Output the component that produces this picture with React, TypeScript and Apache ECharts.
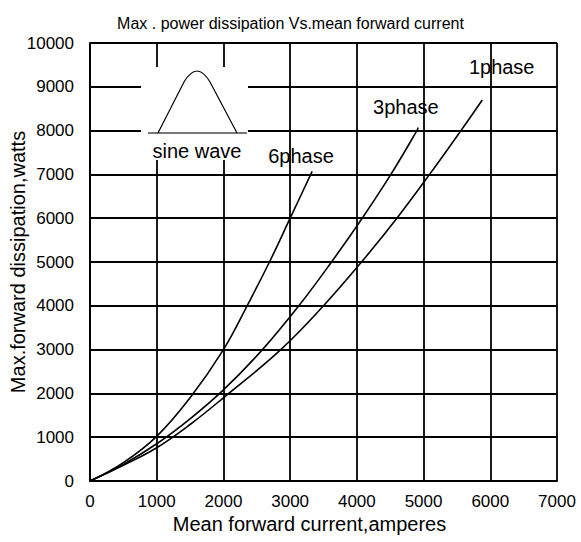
import React, { useEffect, useRef } from "react";
import * as echarts from "echarts";

const titleText = "Max . power dissipation Vs.mean forward current";
const xName = "Mean forward current,amperes";
const yName = "Max.forward dissipation,watts";

const phase1X = [0, 500, 1000, 1500, 2000, 2860, 3500, 4070, 4600, 5090, 5560, 5880];
const phase1Y = [0, 360, 760, 1290, 1900, 3000, 4000, 5000, 6000, 7000, 8000, 8700];
const phase3X = [0, 500, 1000, 1500, 2000, 2585, 3130, 3620, 4080, 4510, 4900, 4920];
const phase3Y = [0, 380, 850, 1420, 2080, 3000, 4000, 5000, 6000, 7000, 8000, 8070];
const phase6X = [0, 500, 1000, 1500, 2000, 2355, 2690, 3000, 3330];
const phase6Y = [0, 420, 1020, 1900, 3000, 4000, 5000, 6000, 7070];

const labelNames = ["1phase", "3phase", "6phase"];
const labelX = [6171, 4734, 3163];
const labelY = [9452, 8546, 7420];

const FONT = "Liberation Sans, Arial, sans-serif";

function pairs(xs: number[], ys: number[]) {
  return xs.map((x, i) => [x, ys[i]]);
}

export default function App() {
  const ref = useRef<HTMLDivElement>(null);
  useEffect(() => {
    if (!ref.current) return;
    echarts.graphic.registerShape(
      "sinebump",
      echarts.graphic.extendPath("M158 133 L184 82 Q197 60 210 82 L237 133", {})
    );
    const chart = echarts.init(ref.current, null, { renderer: "svg" });
    const seriesList = [
      pairs(phase1X, phase1Y),
      pairs(phase3X, phase3Y),
      pairs(phase6X, phase6Y),
    ].map((data, i) => ({
      type: "line",
      data,
      smooth: 0.4,
      symbol: "none",
      silent: true,
      lineStyle: { color: "#000", width: 1.6 },
      markPoint: {
        symbol: "circle",
        symbolSize: 0,
        data: [
          {
            coord: [labelX[i], labelY[i]],
            label: {
              show: true,
              formatter: labelNames[i],
              color: "#000",
              fontFamily: FONT,
              fontSize: 20,
              position: "inside",
            },
          },
        ],
      },
    }));
    chart.setOption({
      animation: false,
      backgroundColor: "#fff",
      title: {
        text: titleText,
        left: "center",
        top: 10,
        textStyle: { fontFamily: FONT, fontSize: 16, fontWeight: "normal", color: "#000" },
      },
      grid: { left: 90, right: 24, top: 43, bottom: 61, containLabel: false, outerBoundsMode: "none" },
      xAxis: {
        type: "value",
        min: 0,
        max: 7000,
        interval: 1000,
        name: xName,
        nameLocation: "middle",
        nameGap: 33,
        nameMoveOverlap: false,
        nameTextStyle: { fontFamily: FONT, fontSize: 20, color: "#000", padding: [0, 28, 0, 0] },
        axisLine: { show: true, lineStyle: { color: "#000", width: 2 } },
        axisTick: { show: false },
        axisLabel: { fontFamily: FONT, fontSize: 17, color: "#000", margin: 12, formatter: (v: number) => String(v) },
        splitLine: { show: true, lineStyle: { color: "#000", width: 1.8 } },
      },
      yAxis: {
        type: "value",
        min: 0,
        max: 10000,
        interval: 1000,
        name: yName,
        nameLocation: "middle",
        nameGap: 62,
        nameMoveOverlap: false,
        nameTextStyle: { fontFamily: FONT, fontSize: 20, color: "#000" },
        axisLine: { show: true, lineStyle: { color: "#000", width: 2 } },
        axisTick: { show: false },
        axisLabel: { fontFamily: FONT, fontSize: 17, color: "#000", margin: 16, formatter: (v: number) => String(v) },
        splitLine: { show: true, lineStyle: { color: "#000", width: 1.8 } },
      },
      graphic: [
        {
          type: "rect",
          shape: { x: 141, y: 67, width: 107, height: 93 },
          style: { fill: "#fff" },
          z: 10,
        },
        {
          type: "line",
          shape: { x1: 148, y1: 133, x2: 247, y2: 133 },
          style: { stroke: "#777", lineWidth: 2 },
          z: 11,
        },
        {
          type: "sinebump",
          x: 0,
          y: 0,
          style: { stroke: "#000", lineWidth: 1.2, fill: null },
          z: 11,
        },
        {
          type: "text",
          x: 197,
          y: 151,
          style: {
            text: "sine wave",
            fontFamily: FONT,
            fontSize: 20,
            fill: "#000",
            align: "center",
            verticalAlign: "middle",
          },
          z: 11,
        },
      ],
      series: seriesList,
    });
    return () => chart.dispose();
  }, []);
  return <div ref={ref} style={{ width: 581, height: 542, position: "absolute", left: 0, top: 0 }} />;
}
